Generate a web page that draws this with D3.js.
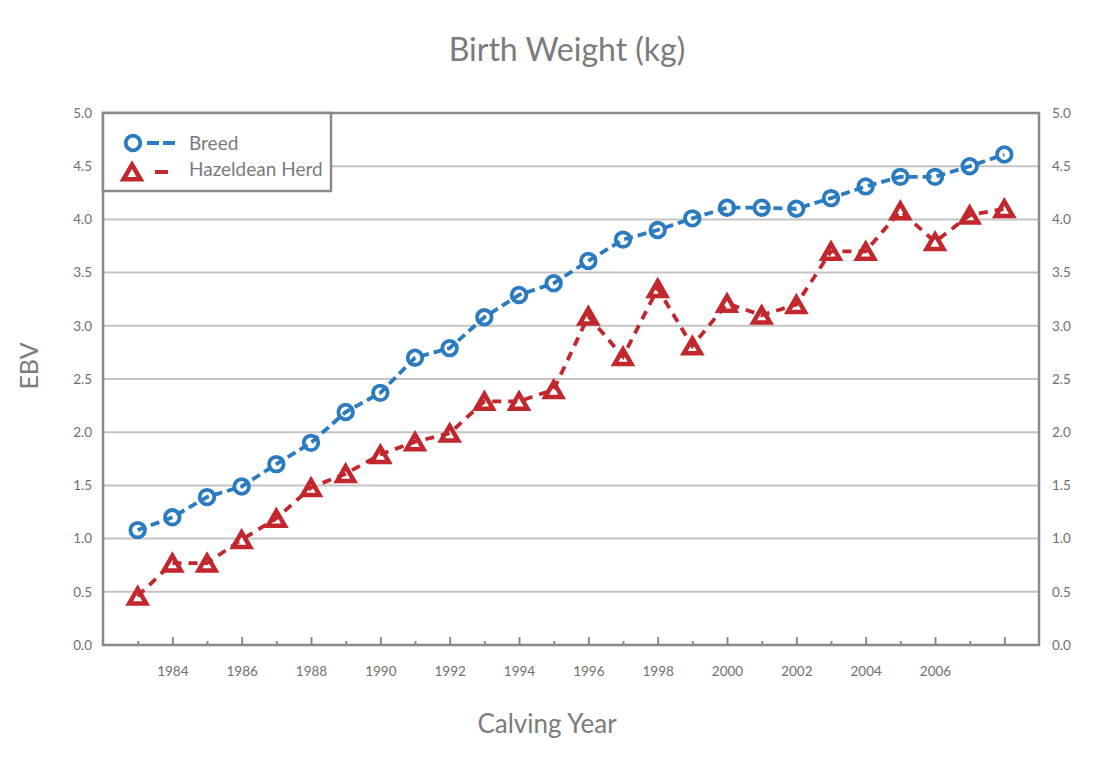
<!DOCTYPE html>
<meta charset="utf-8">
<style>
body { margin: 0; background: #fff; }
text { font-family: Lato, "Open Sans", sans-serif; fill: #7b7b7d; }
.axis path { display: none; }
.axis line { stroke: #8a8a8c; stroke-width: 2; }
.axis text { font-size: 13.5px; fill: #6f6f71; }
.grid line { stroke: #c4c4c6; stroke-width: 2; }
</style>
<body>
<script src="https://d3js.org/d3.v7.min.js"></script>
<script>

var years = [1983, 1984, 1985, 1986, 1987, 1988, 1989, 1990, 1991, 1992, 1993, 1994, 1995,
             1996, 1997, 1998, 1999, 2000, 2001, 2002, 2003, 2004, 2005, 2006, 2007, 2008];

var breed = [1.08, 1.20, 1.39, 1.49, 1.70, 1.90, 2.19, 2.37, 2.70, 2.79, 3.08, 3.29, 3.40,
             3.61, 3.81, 3.90, 4.01, 4.11, 4.11, 4.10, 4.20, 4.31, 4.40, 4.40, 4.50, 4.61];

var herd = [0.46, 0.77, 0.77, 0.99, 1.19, 1.48, 1.61, 1.79, 1.91, 1.99, 2.29, 2.29, 2.40,
            3.09, 2.71, 3.35, 2.81, 3.21, 3.10, 3.20, 3.70, 3.70, 4.08, 3.79, 4.04, 4.10];

var yTicks = [0, 0.5, 1, 1.5, 2, 2.5, 3, 3.5, 4, 4.5, 5];
var yearLabels = [1984, 1986, 1988, 1990, 1992, 1994, 1996, 1998, 2000, 2002, 2004, 2006];

var width = 1100,
    height = 782,
    margin = {left: 104, right: 61, top: 113, bottom: 137};

var blue = "#2b7bc1",
    red = "#c1272d";

var svg = d3.select("body").append("svg")
    .attr("width", width)
    .attr("height", height);

var x = d3.scaleLinear()
    .domain([1982, 2009])
    .range([margin.left - 1, width - margin.right]);

var y = d3.scaleLinear()
    .domain([0, 5])
    .range([height - margin.bottom, margin.top]);

// gridlines
svg.append("g")
    .attr("class", "grid")
  .selectAll("line")
    .data(yTicks.slice(1, -1))
  .enter().append("line")
    .attr("x1", x.range()[0])
    .attr("x2", x.range()[1])
    .attr("y1", function(d) { return y(d); })
    .attr("y2", function(d) { return y(d); });

// minor x ticks (odd years)
svg.append("g")
    .attr("class", "axis")
    .attr("transform", "translate(0," + y(0) + ")")
    .call(d3.axisBottom(x).tickValues(years.filter(function(d) { return d % 2; }))
      .tickSize(-4).tickFormat(""));

// major x ticks (even years)
svg.append("g")
    .attr("class", "axis")
    .attr("transform", "translate(0," + y(0) + ")")
    .call(d3.axisBottom(x).tickValues(years.filter(function(d) { return d % 2 === 0; }))
      .tickSize(-8).tickPadding(21)
      .tickFormat(function(d) { return yearLabels.indexOf(d) >= 0 ? d : ""; }));

svg.append("g")
    .attr("class", "axis")
    .attr("transform", "translate(" + x.range()[0] + ",0)")
    .call(d3.axisLeft(y).tickValues(yTicks).tickSize(0).tickPadding(11)
      .tickFormat(d3.format(".1f")));

svg.append("g")
    .attr("class", "axis")
    .attr("transform", "translate(" + x.range()[1] + ",0)")
    .call(d3.axisRight(y).tickValues(yTicks).tickSize(0).tickPadding(13)
      .tickFormat(d3.format(".1f")));

// frame
svg.append("rect")
    .attr("x", x.range()[0])
    .attr("y", y(5))
    .attr("width", x.range()[1] - x.range()[0])
    .attr("height", y(0) - y(5))
    .attr("fill", "none")
    .attr("stroke", "#8a8a8c")
    .attr("stroke-width", 2.5);

var line = d3.line()
    .x(function(d, i) { return x(years[i]); })
    .y(function(d) { return y(d); });

var triSize = 125;
var tri = d3.symbol().type(d3.symbolTriangle).size(triSize);
var triShift = Math.sqrt(triSize / (Math.sqrt(3) * 3)) / 2;

function drawSeries(values, color, kind, dash) {
  var g = svg.append("g");
  if (kind === "circle") {
    g.selectAll("circle")
        .data(values)
      .enter().append("circle")
        .attr("cx", function(d, i) { return x(years[i]); })
        .attr("cy", function(d) { return y(d); })
        .attr("r", 7.3)
        .attr("fill", "#fff")
        .attr("stroke", color)
        .attr("stroke-width", 3.8);
  } else {
    g.selectAll("path.mark")
        .data(values)
      .enter().append("path")
        .attr("class", "mark")
        .attr("d", tri)
        .attr("transform", function(d, i) { return "translate(" + x(years[i]) + "," + (y(d) + triShift) + ")"; })
        .attr("fill", "#fff")
        .attr("stroke", color)
        .attr("stroke-width", 4.5)
        .attr("stroke-linejoin", "miter");
  }
  g.append("path")
      .datum(values)
      .attr("d", line)
      .attr("fill", "none")
      .attr("stroke", color)
      .attr("stroke-width", 3.8)
      .attr("stroke-dasharray", dash);
}

drawSeries(breed, blue, "circle", "9,5");
drawSeries(herd, red, "triangle", "9,7");

// legend
var lg = svg.append("g");
lg.append("rect")
    .attr("x", x.range()[0])
    .attr("y", y(5))
    .attr("width", 228)
    .attr("height", 78)
    .attr("fill", "#fff")
    .attr("stroke", "#8a8a8c")
    .attr("stroke-width", 2.5);

var legendItems = [
  {name: "Breed", color: blue, kind: "circle", dash: "12,4,12", y: 143, ty: 150},
  {name: "Hazeldean Herd", color: red, kind: "triangle", dash: "0,8,13,20,4", y: 172, ty: 176}
];

legendItems.forEach(function(it) {
  lg.append("line")
      .attr("x1", 147).attr("x2", 178)
      .attr("y1", it.y).attr("y2", it.y)
      .attr("stroke", it.color)
      .attr("stroke-width", 3.8)
      .attr("stroke-dasharray", it.dash);
  if (it.kind === "circle") {
    lg.append("circle")
        .attr("cx", 133).attr("cy", it.y).attr("r", 7.3)
        .attr("fill", "#fff").attr("stroke", it.color).attr("stroke-width", 3.8);
  } else {
    lg.append("path")
        .attr("d", tri)
        .attr("transform", "translate(132," + (it.y + triShift) + ")")
        .attr("fill", "#fff").attr("stroke", it.color).attr("stroke-width", 4.5);
  }
  lg.append("text")
      .attr("x", 189)
      .attr("y", it.ty)
      .style("font-size", "19px")
      .text(it.name);
});

// titles
var cx = (x.range()[0] + x.range()[1]) / 2;

svg.append("text")
    .attr("x", cx - 4)
    .attr("y", 61)
    .attr("text-anchor", "middle")
    .style("font-size", "32px")
    .text("Birth Weight (kg)");

svg.append("text")
    .attr("x", cx - 24)
    .attr("y", 733)
    .attr("text-anchor", "middle")
    .style("font-size", "26px")
    .text("Calving Year");

svg.append("text")
    .attr("transform", "translate(38,366) rotate(-90)")
    .attr("text-anchor", "middle")
    .style("font-size", "25px")
    .text("EBV");

</script>
